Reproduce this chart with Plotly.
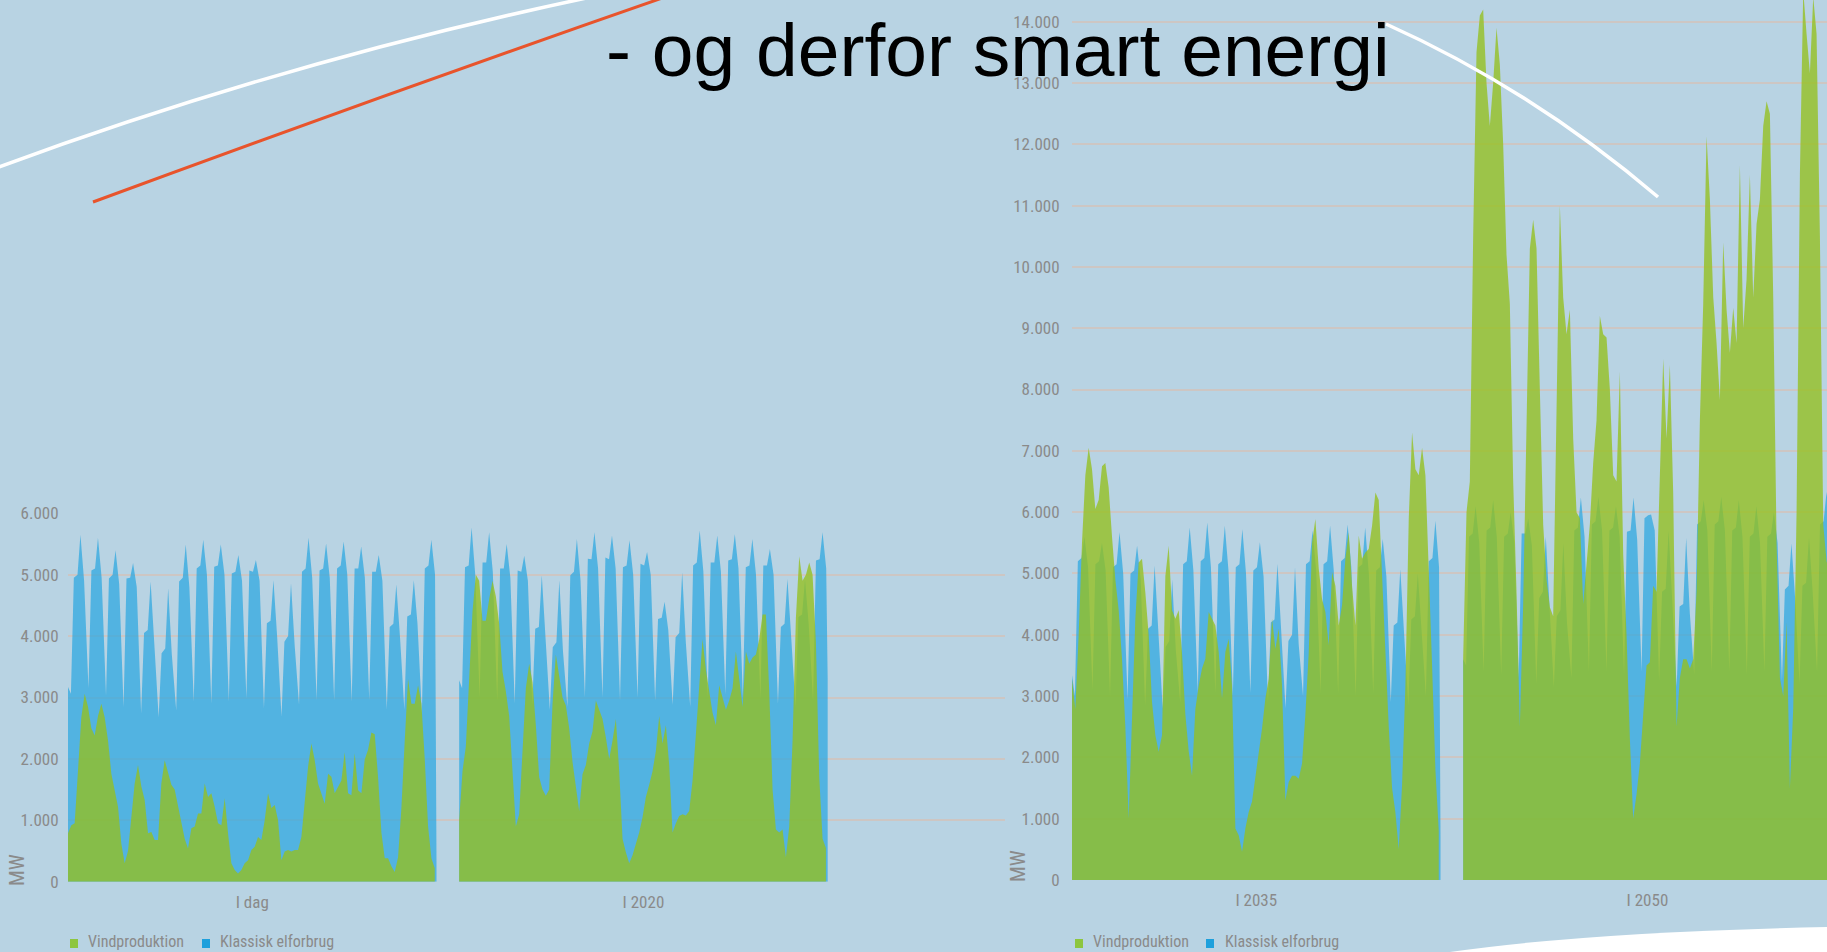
import plotly.graph_objects as go

W, H = 1827, 952

# ------------------------------------------------------------------ data
DAYS = 21
BLUE_HOURS = [4, 8, 13, 17, 22]      # hour-of-day of the five consumption readings per day
GREEN_STEP_H = 4.56                  # sampling step of the wind series (hours)
PANEL2_START_H = 535                 # second period starts after a short gap (hours)

Y_TICKS_LEFT = [0, 1000, 2000, 3000, 4000, 5000, 6000]
Y_TEXT_LEFT = ["0", "1.000", "2.000", "3.000", "4.000", "5.000", "6.000"]
Y_TICKS_RIGHT = list(range(0, 15000, 1000))
Y_TEXT_RIGHT = ["0"] + [f"{v // 1000}.000" for v in range(1000, 15000, 1000)]
PERIODS_LEFT = ["I dag", "I 2020"]
PERIODS_RIGHT = ["I 2035", "I 2050"]
SERIES = ["Vindproduktion", "Klassisk elforbrug"]

# Klassisk elforbrug (MW): first = value at hour 0, then per day
# (night trough, morning, midday, evening peak, late evening), last = value at period end
BLUE_DAG = [3170,
    3060, 4950, 5000, 5650, 4900,  3150, 5070, 5100, 5600, 4950,  3030, 4940, 5000, 5400, 4850,
    2850, 4940, 4950, 5190, 4800,  2740, 4050, 4100, 4890, 3900,  2680, 3720, 3800, 4780, 3700,
    2790, 4890, 4950, 5490, 4800,  2930, 5100, 5150, 5570, 5000,  2900, 5130, 5150, 5490, 5000,
    2930, 5020, 5050, 5320, 4900,  2985, 5070, 5050, 5240, 4900,  2820, 4210, 4250, 4910, 4000,
    2690, 3910, 4000, 4860, 3850,  2880, 5050, 5100, 5600, 4950,  2960, 5070, 5100, 5510, 4950,
    2960, 5100, 5150, 5540, 5000,  2930, 5100, 5100, 5460, 4950,  2960, 5050, 5050, 5320, 4900,
    2800, 4150, 4200, 4840, 4000,  2800, 4320, 4350, 4910, 4200,  2740, 5100, 5150, 5570, 5000,
    300]
BLUE_2020 = [3280,
    3150, 5120, 5150, 5770, 5000,  3000, 5200, 5200, 5690, 5050,  2950, 5100, 5100, 5500, 4950,
    2900, 5070, 5050, 5310, 4900,  2880, 4120, 4150, 4990, 4000,  2800, 3820, 3900, 4910, 3750,
    2850, 4990, 5050, 5580, 4900,  3000, 5260, 5250, 5690, 5100,  3000, 5280, 5250, 5640, 5100,
    2950, 5120, 5150, 5560, 5000,  3000, 5180, 5150, 5370, 5000,  2950, 4280, 4300, 4560, 4100,
    2880, 3980, 4050, 5040, 3900,  2850, 5150, 5200, 5720, 5050,  3000, 5200, 5200, 5640, 5050,
    3050, 5230, 5250, 5660, 5100,  3000, 5120, 5150, 5580, 5000,  2980, 5150, 5150, 5420, 5000,
    2900, 4150, 4200, 4930, 4000,  2850, 4310, 4350, 4930, 4200,  2950, 5230, 5250, 5690, 5100,
    3300]
BLUE_2035 = [3340,
    3000, 5200, 5250, 5600, 5100,  3100, 5150, 5200, 5500, 5050,  3000, 5100, 5150, 5670, 5000,
    2950, 5000, 5050, 5450, 4900,  2850, 4100, 4150, 5130, 4000,  2800, 3800, 3900, 4900, 3750,
    2900, 5150, 5200, 5750, 5050,  3050, 5200, 5250, 5830, 5100,  3050, 5150, 5200, 5780, 5050,
    3000, 5100, 5150, 5720, 5000,  3050, 5050, 5100, 5510, 4950,  2900, 4200, 4250, 5160, 4100,
    2800, 3900, 4000, 5100, 3850,  3000, 5150, 5200, 5700, 5050,  3050, 5150, 5200, 5780, 5050,
    3050, 5200, 5250, 5800, 5100,  3000, 5100, 5150, 5750, 5000,  3050, 5050, 5100, 5560, 4950,
    2900, 4150, 4200, 5070, 4000,  2850, 4250, 4300, 5000, 4150,  3000, 5200, 5250, 5860, 5100,
    700]
BLUE_2050 = [3600,
    3500, 5600, 5650, 6100, 5500,  3400, 5700, 5750, 6200, 5600,  3350, 5600, 5650, 6000, 5500,
    3300, 5650, 5650, 5900, 5450,  3200, 4600, 4700, 5600, 4500,  3150, 4300, 4400, 5500, 4200,
    3300, 5700, 5750, 6240, 5600,  3400, 5800, 5850, 6250, 5700,  3400, 5700, 5750, 6100, 5600,
    3350, 5680, 5700, 6240, 5550,  3400, 5900, 5950, 5960, 5700,  3250, 4700, 4750, 5700, 4600,
    3150, 4460, 4500, 5580, 4350,  3350, 5800, 5850, 6200, 5700,  3400, 5800, 5850, 6250, 5700,
    3400, 5700, 5750, 6200, 5600,  3350, 5600, 5650, 6100, 5500,  3400, 5600, 5650, 6000, 5500,
    3250, 4740, 4800, 5490, 4600,  3200, 4800, 4850, 5600, 4700,  3400, 5800, 5850, 6330, 5700,
    5800]

# Vindproduktion (MW), one reading every GREEN_STEP_H hours
GREEN_DAG = [
    790, 920, 950, 1870, 2680, 3060, 2850, 2500, 2380, 2700, 2900, 2680, 2300, 1760, 1490, 1220,
    620, 300, 500, 1060, 1600, 1900, 1550, 1330, 790, 810, 680, 680, 1600, 1980, 1800, 1580,
    1500, 1250, 980, 700, 540, 870, 900, 1110, 1110, 1600, 1380, 1440, 1220, 950, 920, 1360,
    790, 300, 190, 135, 190, 300, 350, 515, 570, 730, 680, 1000, 1440, 1200, 1250, 1000,
    350, 490, 515, 490, 515, 515, 730, 1330, 1870, 2250, 1980, 1600, 1440, 1270, 1760, 1710,
    1440, 1550, 1650, 2110, 1440, 1410, 2090, 1490, 1440, 1990, 2150, 2430, 2400, 1700, 800, 380,
    380, 250, 160, 400, 1200, 2300, 3300, 2900, 2900, 3200, 2900, 2000, 900, 380, 220]
GREEN_2020 = [
    1000, 1800, 2200, 3300, 4400, 5000, 4900, 4250, 4250, 4600, 4900, 4650, 4200, 3420, 3100, 2700,
    1800, 900, 1100, 2200, 3150, 3550, 3250, 2550, 1700, 1500, 1400, 1500, 2900, 3700, 3350, 3000,
    2870, 2500, 1950, 1500, 1150, 1750, 1900, 2250, 2450, 2950, 2800, 2650, 2350, 2000, 2300, 2650,
    1800, 700, 480, 300, 430, 600, 800, 1050, 1380, 1580, 1800, 2130, 2700, 2250, 2550, 1900,
    800, 950, 1070, 1100, 1080, 1150, 1650, 2400, 3200, 3950, 3450, 3100, 2750, 2550, 3200, 3000,
    2800, 2950, 3150, 3750, 3300, 2850, 3750, 3550, 3650, 3700, 3950, 4350, 4350, 3100, 1500, 850,
    800, 850, 400, 900, 2300, 4300, 5300, 4900, 5000, 5200, 5000, 3900, 1700, 700, 550]
GREEN_2035 = [
    3280, 2790, 4000, 5500, 6600, 7050, 6700, 6050, 6200, 6750, 6800, 6400, 5600, 4900, 4400, 3600,
    2500, 1000, 2630, 4260, 5180, 5240, 4690, 3990, 2900, 2360, 2090, 2360, 4960, 5450, 4400, 4260,
    4400, 3700, 2700, 2100, 1700, 2790, 3170, 3450, 3610, 4370, 4260, 4150, 3720, 2960, 3720, 3930,
    3170, 840, 730, 460, 840, 1110, 1280, 1650, 2090, 2470, 2960, 3280, 4260, 3770, 4100, 3170,
    1300, 1600, 1700, 1700, 1650, 1900, 2700, 3700, 5500, 5890, 5080, 4580, 4370, 3830, 5020, 4800,
    4150, 4480, 5240, 5670, 4800, 4150, 5620, 5240, 5340, 5400, 5780, 6320, 6200, 4900, 3600, 2500,
    1500, 1100, 500, 1550, 3170, 5890, 7300, 6700, 6600, 7050, 6600, 5200, 3500, 1800, 800]
GREEN_2050 = [
    3620, 6000, 6500, 10500, 13500, 14100, 14200, 13000, 12300, 13000, 13900, 13300, 12000, 10200,
    9400, 6500, 4700, 2500, 4500, 7500, 10300, 10770, 10300, 8000, 5800, 4900, 4450, 4300, 8000,
    11000, 9500, 8900, 9300, 7200, 6000, 5900, 4500, 5200, 5800, 6800, 7500, 9200, 8900, 8850,
    8000, 6600, 6500, 8290, 5300, 4000, 2300, 1000, 1400, 1900, 2800, 3500, 3550, 4800, 4700,
    6500, 8500, 7200, 8400, 6300, 2500, 3300, 3600, 3600, 3450, 3600, 4700, 7500, 9400, 12130,
    11100, 9510, 8760, 7830, 10400, 9300, 8600, 9330, 8760, 11660, 9000, 9800, 11500, 9500, 10700,
    11100, 12300, 12700, 12500, 9500, 5500, 3300, 3000, 4200, 1500, 2800, 6000, 11500, 14500,
    13800, 13160, 14400, 13800, 10500, 5800, 5200, 5000]

# ------------------------------------------------------------------ style
BG = "#b8d3e3"
BLUE_FILL = "rgba(38,165,223,0.70)"
GREEN_FILL = "rgba(149,192,30,0.78)"
GRID = "#cdc6c3"
LABEL = "#8a8a8a"
NARROW = "Liberation Sans Narrow, Arial Narrow, Roboto Condensed, Roboto, sans-serif"

H_PER_PX = 504 / 368.5        # time scale shared by both charts


def blue_xy(vals, offset):
    xs = [offset] + [offset + d * 24 + h for d in range(DAYS) for h in BLUE_HOURS] + [offset + DAYS * 24]
    return xs, vals


def green_xy(vals, offset):
    return [offset + k * GREEN_STEP_H for k in range(len(vals))], vals


def area(x, y, color, xa, ya):
    return go.Scatter(x=x, y=y, mode="lines", line=dict(width=0), fill="tozeroy",
                      fillcolor=color, xaxis=xa, yaxis=ya, showlegend=False,
                      hoverinfo="skip")


fig = go.Figure()
for blue, green, off in [(BLUE_DAG, GREEN_DAG, 0), (BLUE_2020, GREEN_2020, PANEL2_START_H)]:
    fig.add_trace(area(*blue_xy(blue, off), BLUE_FILL, "x", "y"))
    fig.add_trace(area(*green_xy(green, off), GREEN_FILL, "x", "y"))
for blue, green, off in [(BLUE_2035, GREEN_2035, 0), (BLUE_2050, GREEN_2050, PANEL2_START_H)]:
    fig.add_trace(area(*blue_xy(blue, off), BLUE_FILL, "x2", "y2"))
    fig.add_trace(area(*green_xy(green, off), GREEN_FILL, "x2", "y2"))


def px(x):
    return x / W


def py(y):
    return 1 - y / H


L0, L1 = 68, 1005          # left chart plot area (pixels)
R0, R1 = 1072, 1827        # right chart plot area
Y0L, Y6K = 881.7, 513.3    # left: pixel of 0 and 6000
Y0R, PX_PER_K = 880, 61.31

xcommon = dict(showgrid=False, zeroline=False, showline=False, automargin=False,
               ticks="outside", ticklen=5, tickcolor="rgba(0,0,0,0)",
               tickfont=dict(family=NARROW, size=17, color=LABEL), fixedrange=True)
ycommon = dict(showgrid=True, gridcolor=GRID, gridwidth=2, zeroline=False, showline=False,
               automargin=False, ticks="outside", tickcolor="rgba(0,0,0,0)",
               tickfont=dict(family=NARROW, size=17, color=LABEL), fixedrange=True)

fig.update_layout(
    width=W, height=H, margin=dict(l=0, r=0, t=0, b=0, autoexpand=False), autosize=False,
    paper_bgcolor=BG, plot_bgcolor="rgba(0,0,0,0)",
    xaxis=dict(domain=[px(L0), px(L1)], range=[0, (L1 - L0) * H_PER_PX],
               tickvals=[252, PANEL2_START_H + 252], ticktext=PERIODS_LEFT, anchor="y", **xcommon),
    yaxis=dict(domain=[py(Y0L), py(Y6K)], range=[0, 6000], tickvals=Y_TICKS_LEFT,
               ticktext=Y_TEXT_LEFT, ticklen=5, anchor="x", **ycommon),
    xaxis2=dict(domain=[px(R0), px(R1)], range=[0, (R1 - R0) * H_PER_PX],
                tickvals=[252, PANEL2_START_H + 252], ticktext=PERIODS_RIGHT, anchor="y2", **xcommon),
    yaxis2=dict(domain=[py(Y0R), 1], range=[0, Y0R / PX_PER_K * 1000], tickvals=Y_TICKS_RIGHT,
                ticktext=Y_TEXT_RIGHT, ticklen=8, anchor="x2", **ycommon),
)

# ------------------------------------------------------------------ decorations
def P(x, y):
    return f"{px(x):.5f},{py(y):.5f}"


shapes = [
    dict(type="path", xref="paper", yref="paper", layer="above",
         path=f"M {P(-20, 174)} Q {P(280, 62)} {P(596, -4)}",
         line=dict(color="white", width=3.5)),
    dict(type="path", xref="paper", yref="paper", layer="above",
         path=f"M {P(1386, 24)} Q {P(1531, 89)} {P(1658, 197)}",
         line=dict(color="white", width=3.5)),
    dict(type="path", xref="paper", yref="paper", layer="above",
         path=f"M {P(93, 202)} Q {P(380, 96)} {P(668, -4)}",
         line=dict(color="#e8542c", width=3)),
    dict(type="path", xref="paper", yref="paper", layer="above",
         path=f"M {P(1430, 955)} Q {P(1575, 932)} {P(1830, 927)} L {P(1830, 955)} Z",
         fillcolor="white", line=dict(width=0)),
]

annotations = [
    dict(text="- og derfor smart energi", xref="paper", yref="paper", x=px(998), y=py(50),
         xanchor="center", yanchor="middle", showarrow=False,
         font=dict(family="Liberation Sans, Arial, sans-serif", size=75, color="black")),
    dict(text="MW", xref="paper", yref="paper", x=px(17), y=py(870), textangle=-90,
         xanchor="center", yanchor="middle", showarrow=False,
         font=dict(family=NARROW, size=21, color=LABEL)),
    dict(text="MW", xref="paper", yref="paper", x=px(1018), y=py(866), textangle=-90,
         xanchor="center", yanchor="middle", showarrow=False,
         font=dict(family=NARROW, size=21, color=LABEL)),
]

LEG_COLORS = ["#8dc63f", "#1ea0dc"]
for sq_x, txt_x in [((70, 202), (86, 218)), ((1075, 1206), (1091, 1223))]:
    for i, name in enumerate(SERIES):
        x0 = sq_x[i]
        shapes.append(dict(type="rect", xref="paper", yref="paper",
                           x0=px(x0), x1=px(x0 + 8), y0=py(948), y1=py(939),
                           fillcolor=LEG_COLORS[i], line=dict(width=0)))
        annotations.append(dict(text=name, xref="paper", yref="paper", x=px(txt_x[i]), y=py(941),
                                xanchor="left", yanchor="middle", showarrow=False,
                                font=dict(family=NARROW, size=16, color=LABEL)))

fig.update_layout(shapes=shapes, annotations=annotations)
fig.write_html(
    "out.html",
    config={"displayModeBar": False},
    post_script=("document.documentElement.style.margin='0';document.body.style.margin='0';"
                 "document.body.style.overflow='hidden';"),
)
